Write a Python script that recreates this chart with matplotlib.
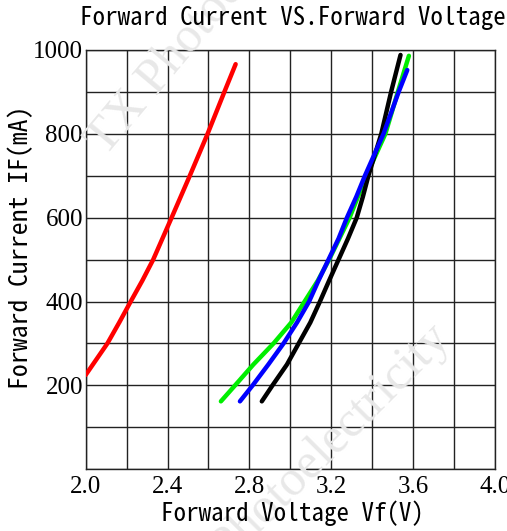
import numpy as np
import matplotlib
matplotlib.use('Agg')
import matplotlib.pyplot as plt

# Data (Vf in V, IF in mA)
red_v = [2.0, 2.106, 2.164, 2.22, 2.277, 2.33, 2.42, 2.509, 2.596, 2.678, 2.733]
red_i = [225, 300, 350, 400, 450, 500, 600, 700, 800, 900, 966]

green_v = [2.661, 2.73, 2.82, 2.918, 3.005, 3.07, 3.135, 3.19, 3.29, 3.372, 3.465, 3.526, 3.58]
green_i = [162, 200, 250, 300, 350, 400, 450, 500, 600, 700, 800, 900, 986]

blue_v = [2.754, 2.816, 2.893, 2.967, 3.033, 3.092, 3.138, 3.187, 3.236, 3.277,
          3.323, 3.365, 3.456, 3.53, 3.572]
blue_i = [162, 200, 250, 300, 350, 400, 450, 500, 550, 600, 650, 700, 800, 900, 952]

black_v = [2.861, 2.913, 2.984, 3.041, 3.098, 3.145, 3.19, 3.236, 3.282, 3.325,
           3.355, 3.382, 3.445, 3.493, 3.539]
black_i = [162, 200, 250, 300, 350, 400, 450, 500, 550, 600, 650, 700, 800, 900, 988]

x_grid = np.arange(2.0, 4.01, 0.2)
y_grid = np.arange(0, 1001, 100)
x_labels = ['2.0', '', '2.4', '', '2.8', '', '3.2', '', '3.6', '', '4.0']
y_labels = ['', '', '200', '', '400', '', '600', '', '800', '', '1000']

label_font = ['Noto Sans Mono CJK SC', 'Liberation Mono', 'DejaVu Sans Mono']
tick_font = 'Liberation Serif'

fig = plt.figure(figsize=(5.07, 5.31), dpi=100)
ax = fig.add_axes([0.169, 0.1162, 0.807, 0.7898])

# faint watermark
fig.text(0.19, 0.72, 'TX Photoelectricity', rotation=50, fontsize=36,
         color='#e8e8e8', family='Liberation Serif', zorder=0,
         ha='left', va='center', rotation_mode='anchor')
fig.text(0.875, 0.375, 'TX Photoelectricity', rotation=45, fontsize=36,
         color='#e8e8e8', family='Liberation Serif', zorder=0,
         ha='right', va='center', rotation_mode='anchor')
ax.patch.set_alpha(0)

ax.plot(red_v, red_i, color='#ff0000', lw=3.2, solid_capstyle='round',
        solid_joinstyle='round', zorder=3)
ax.plot(green_v, green_i, color='#00ee00', lw=3.2, solid_capstyle='round',
        solid_joinstyle='round', zorder=3)
ax.plot(black_v, black_i, color='#000000', lw=3.2, solid_capstyle='round',
        solid_joinstyle='round', zorder=4)
ax.plot(blue_v, blue_i, color='#0000ff', lw=3.2, solid_capstyle='round',
        solid_joinstyle='round', zorder=5)

ax.set_xlim(2.0, 4.0)
ax.set_ylim(0, 1000)
ax.set_xticks(x_grid)
ax.set_xticklabels(x_labels)
ax.set_yticks(y_grid)
ax.set_yticklabels(y_labels)
ax.grid(True, color='#222222', lw=1.0)
ax.set_axisbelow(True)
for s in ax.spines.values():
    s.set_linewidth(1.0)
    s.set_color('#222222')
ax.tick_params(length=0, labelsize=18)
ax.tick_params(axis='x', pad=5)
ax.tick_params(axis='y', pad=2)
for lab in ax.get_xticklabels() + ax.get_yticklabels():
    lab.set_family(tick_font)

fig.text(0.578, 0.967, 'Forward Current VS.Forward Voltage', fontsize=18,
         family=label_font, ha='center', va='center')
fig.text(0.577, 0.034, 'Forward Voltage Vf(V)', fontsize=18,
         family=label_font, ha='center', va='center')
fig.text(0.040, 0.535, 'Forward Current IF(mA)', fontsize=18.5, rotation=90,
         family=label_font, ha='center', va='center')

fig.savefig('out.png', dpi=100)
